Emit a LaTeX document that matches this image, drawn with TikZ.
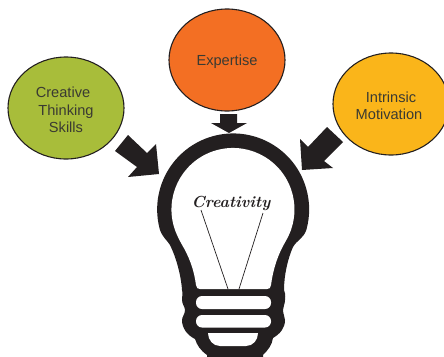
\documentclass[tikz,border=0pt]{standalone}
\usepackage{fontspec}
\setmainfont{Liberation Sans}
\newfontfamily\handfont[Scale=1]{Latin Modern Roman}
\definecolor{ink}{HTML}{231F20}
\definecolor{labelink}{HTML}{3A3A32}
\definecolor{greenfill}{HTML}{A8BD3A}
\definecolor{orangefill}{HTML}{F36F23}
\definecolor{yellowfill}{HTML}{FAB51A}
\tikzset{
  bubble/.style={draw=ink,line width=1.1pt,ellipse,minimum width=116pt,minimum height=102pt,inner sep=0pt,align=center,text=labelink,font=\fontsize{14.6}{17.6}\selectfont},
  blockarrow/.style={fill=ink,draw=none},
  filament/.style={draw=ink,line width=0.7pt},
  slot/.style={fill=white,draw=none}
}
\usetikzlibrary{shapes.geometric}
\begin{document}
\begin{tikzpicture}[x=1pt,y=-1pt]
\useasboundingbox (0,0) rectangle (444,356);
\clip (0,0) rectangle (444,356);
\node[bubble,fill=greenfill] (skills) at (66,108) {\rule{0pt}{14.5pt}Creative\hspace*{6pt}\\Thinking\hspace*{6pt}\\Skills};
\node[bubble,fill=orangefill] (expertise) at (227,60) {\rule{0pt}{13.5pt}Expertise};
\node[bubble,fill=yellowfill] (motivation) at (391,104) {\rule{0pt}{14.5pt}Intrinsic\\Motivation\hspace*{4pt}};
% block arrows
\fill[blockarrow] (220,114) -- (237,114) -- (237,123) -- (247,123) -- (229,133) -- (211,123) -- (220,123) -- cycle;
\fill[blockarrow] (128,135) -- (147,153) -- (156,144) -- (159,174) -- (128,177) -- (137,167) -- (115,151) -- cycle;
\fill[blockarrow] (327,127) -- (343,142) -- (324,161) -- (333,168) -- (302,170) -- (300,139) -- (308,147) -- cycle;
% bulb
\fill[ink] (160,230) arc[start angle=164.3,end angle=375.7,radius=76]
  .. controls (303,239) and (297,240) .. (293,247)
  .. controls (288,258) and (284,275) .. (284,290)
  .. controls (286,295) and (285,298) .. (285,300)
  .. controls (285,304) and (283,307) .. (283,310)
  .. controls (283,314) and (285,317) .. (285,320)
  .. controls (285,328) and (280,334) .. (273,338)
  .. controls (272,345) and (268,350) .. (263,355)
  -- (263,360) -- (207,360) -- (207,355)
  .. controls (200,350) and (197,345) .. (195,339)
  .. controls (187,335) and (182,328) .. (182,320)
  .. controls (182,317) and (185,314) .. (185,310)
  .. controls (185,307) and (182,304) .. (182,300)
  .. controls (182,297) and (183,293) .. (182,290)
  .. controls (181,275) and (176,257) .. (170,245)
  .. controls (167,240) and (163,238) .. (160,230) -- cycle;
\fill[white] (175,230) arc[start angle=160.5,end angle=379.5,radius=61.5]
  .. controls (288,238) and (285,242) .. (282,248)
  .. controls (277,258) and (273,270) .. (271,285)
  .. controls (271,288) and (269,289) .. (267,289)
  -- (200,289)
  .. controls (198,289) and (196,288) .. (196,285)
  .. controls (194,270) and (190,260) .. (185,250)
  .. controls (181,243) and (178,238) .. (175,230) -- cycle;
\fill[slot,rounded corners=6pt] (196,296) rectangle (271,309);
\fill[slot,rounded corners=6pt] (196,315) rectangle (271,327.5);
\fill[slot] (208,333) -- (258,333) .. controls (258,340) and (253,346) .. (246,346) -- (220,346) .. controls (213,346) and (208,340) .. (208,333) -- cycle;
% label and filament
\node[font=\handfont\itshape\bfseries\fontsize{16}{18}\selectfont,text=ink,inner sep=0pt] (creativity) at (231,203) {Creativity};
\coordinate (fa) at (228,289);
\coordinate (fb) at (239,289);
\draw[filament] (201,210) -- (fa);
\draw[filament] (263,213) -- (fb);
\end{tikzpicture}
\end{document}
